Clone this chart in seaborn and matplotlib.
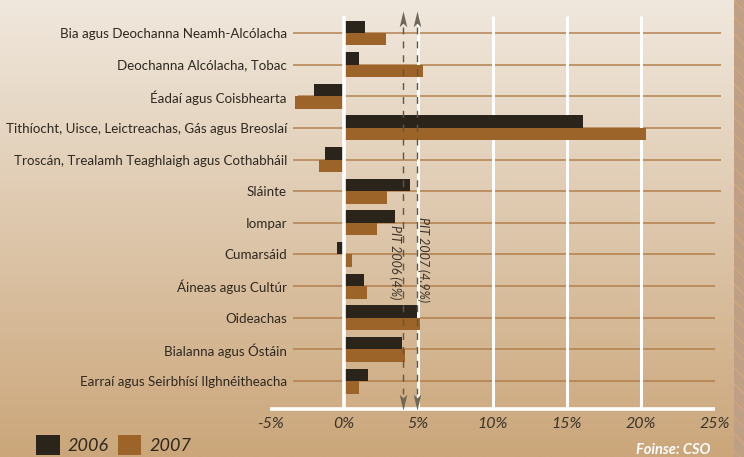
import numpy as np
import pandas as pd
import matplotlib
matplotlib.use("Agg")
import matplotlib.pyplot as plt
from matplotlib.path import Path
from matplotlib.patches import Rectangle, Patch
import seaborn as sns

# ---- data ----
categories = [
    "Bia agus Deochanna Neamh-Alcólacha",
    "Deochanna Alcólacha, Tobac",
    "Éadaí agus Coisbhearta",
    "Tithíocht, Uisce, Leictreachas, Gás agus Breoslaí",
    "Troscán, Trealamh Teaghlaigh agus Cothabháil",
    "Sláinte",
    "Iompar",
    "Cumarsáid",
    "Áineas agus Cultúr",
    "Oideachas",
    "Bialanna agus Óstáin",
    "Earraí agus Seirbhísí Ilghnéitheacha",
]
values_2006 = [1.4, 1.0, -2.0, 16.1, -1.3, 4.45, 3.4, -0.5, 1.35, 4.9, 3.9, 1.6]
values_2007 = [2.85, 5.3, -3.3, 20.35, -1.7, 2.9, 2.2, 0.5, 1.55, 5.1, 4.1, 1.0]
years = ["2006", "2007"]
pit_values = [4.0, 4.9]
pit_labels = ["PIT 2006 (4%)", "PIT 2007 (4.9%)"]
xticks = [-5, 0, 5, 10, 15, 20, 25]
xtick_labels = ["-5%", "0%", "5%", "10%", "15%", "20%", "25%"]

df = pd.DataFrame({
    "category": categories * 2,
    "year": [years[0]] * len(categories) + [years[1]] * len(categories),
    "value": values_2006 + values_2007,
})

C2006 = "#2b241b"
C2007 = "#9c6428"
GRID = "#b07a45"
TEXT = "#2e2820"
ARROW = "#6e6656"

sns.set_theme(style="white")
plt.rcParams["font.family"] = ["Lato", "DejaVu Sans"]

W, H = 744, 457
fig = plt.figure(figsize=(W / 100, H / 100), dpi=100)

# warm vertical gradient background
bg = fig.add_axes([0, 0, 1, 1], zorder=-10)
top = np.array([240, 232, 221]) / 255
bot = np.array([203, 166, 122]) / 255
t = np.linspace(0, 1, 256)[:, None]
grad = top[None, :] * (1 - t) + bot[None, :] * t
bg.imshow(grad[:, None, :], aspect="auto", extent=[0, 1, 0, 1], origin="upper")
# textured strip on the right edge
bg.add_patch(Rectangle((734 / W, 0), 1 - 734 / W, 1, facecolor="#bf9f86",
                       edgecolor="#d2a878", hatch="\\\\", linewidth=0))
bg.set_xlim(0, 1)
bg.set_ylim(0, 1)
bg.axis("off")

# main axes: x from -5% (px 270) to 25% (px 715), y from px 16 to px 409
row0, rowstep = 33.0, 31.64
y_top = (16 - row0) / rowstep
y_bot = (409 - row0) / rowstep
ax = fig.add_axes([270 / W, 1 - 409 / H, (715 - 270) / W, (409 - 16) / H])
ax.patch.set_alpha(0)

n = len(categories)

# white vertical gridlines (beneath the bars); the zero line sits on top
for v in [5, 10, 15, 20]:
    ax.plot([v, v], [y_top, y_bot], color="white", lw=2.2, zorder=1,
            solid_capstyle="butt")
ax.plot([0, 0], [y_top, y_bot], color="white", lw=2.6, zorder=4,
        solid_capstyle="butt")
ax.plot([-5, 25], [y_bot, y_bot], color="white", lw=2.6, zorder=4,
        clip_on=False, solid_capstyle="butt")

# row guide lines
for i in range(n):
    right = 25.4 if i < 6 else 25.0
    left = -3.1 if i == 2 else -3.45
    ax.plot([left, right], [i, i], color=GRID, lw=1.2, alpha=0.85,
            zorder=0.5, clip_on=False, solid_capstyle="butt")

sns.barplot(data=df, y="category", x="value", hue="year", orient="h",
            palette=[C2006, C2007], width=0.79, saturation=1,
            ax=ax, legend=False, linewidth=0, edgecolor="none")
for p in ax.patches:
    p.set_zorder(3)

ax.set_xlim(-5, 25)
ax.set_ylim(y_bot, y_top)

for s in ax.spines.values():
    s.set_visible(False)

ax.set_xticks(xticks)
ax.set_xticklabels(xtick_labels, fontsize=11.5, style="italic", color="#3a342b")
ax.tick_params(axis="x", length=0, pad=6)
ax.set_yticks(range(n))
ax.set_yticklabels(categories, fontsize=9.6, color=TEXT)
ax.tick_params(axis="y", length=0, pad=-(287 - 270) * 0.72)
ax.set_xlabel("")
ax.set_ylabel("")

# PIT reference lines with arrowheads
head = Path([(0, 1), (0.42, -0.75), (0, -0.35), (-0.42, -0.75), (0, 1)],
            [Path.MOVETO, Path.LINETO, Path.LINETO, Path.LINETO, Path.CLOSEPOLY])
head_down = Path(head.vertices * np.array([1, -1]), head.codes)
y_arrow_top = (19.5 - row0) / rowstep
y_arrow_bot = (401 - row0) / rowstep
for v in pit_values:
    ax.plot([v, v], [(27 - row0) / rowstep, (394 - row0) / rowstep],
            color="#5d5749", lw=1.0, ls=(0, (5, 5)), zorder=5, clip_on=False)
    ax.scatter([v], [y_arrow_top], marker=head, s=170, color=ARROW,
               zorder=6, clip_on=False, linewidths=0)
    ax.scatter([v], [y_arrow_bot], marker=head_down, s=170, color=ARROW,
               zorder=6, clip_on=False, linewidths=0)

ax.text(3.45, (262 - row0) / rowstep, pit_labels[0], rotation=270,
        ha="center", va="center", fontsize=9, style="italic", color="#3a342b",
        zorder=7)
ax.text(5.35, (260 - row0) / rowstep, pit_labels[1], rotation=270,
        ha="center", va="center", fontsize=9, style="italic", color="#3a342b",
        zorder=7)

# legend
handles = [Patch(facecolor=C2006, edgecolor="none"),
           Patch(facecolor=C2007, edgecolor="none")]
fig.legend(handles, years, loc="lower left", bbox_to_anchor=(20 / W, -14 / H),
           ncol=2, frameon=False, handlelength=1.3, handleheight=1.3,
           handletextpad=0.45, columnspacing=0.5,
           prop={"size": 13, "style": "italic"}, labelcolor="#2e2820")

fig.text(710 / W, 1 - 450 / H, "Foinse: CSO", ha="right", va="center",
         fontsize=10.5, style="italic", weight="bold", color="white")

fig.savefig("out.png", dpi=100)
